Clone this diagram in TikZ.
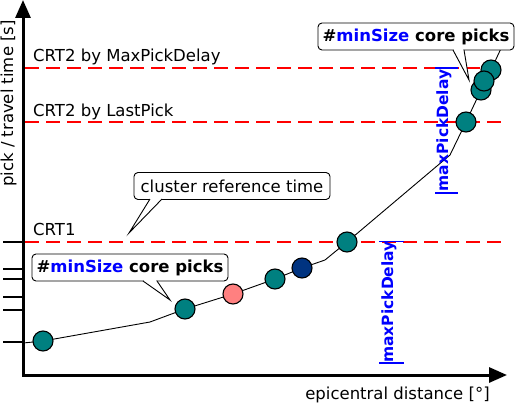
\documentclass[tikz,border=0pt]{standalone}
\usepackage{fontspec}
\setmainfont{DejaVu Sans}
\usetikzlibrary{arrows.meta}
\definecolor{pickteal}{RGB}{0,128,128}
\definecolor{pickpink}{RGB}{255,128,128}
\definecolor{picknavy}{RGB}{0,51,128}
\definecolor{labelblue}{RGB}{0,0,255}
\definecolor{crtred}{RGB}{255,0,0}
\begin{document}
\begin{tikzpicture}[x=1pt,y=-1pt,
  axis/.style={line width=3pt,-{Triangle[length=18pt,width=15pt]}},
  tickline/.style={line width=2pt},
  crtline/.style={crtred,line width=2pt,dash pattern=on 14pt off 7pt},
  curveline/.style={line width=0.9pt},
  pick/.style={circle,draw=black,line width=1.1pt,minimum size=20pt,inner sep=0pt},
  lbl/.style={font=\fontsize{16.5}{19}\selectfont,inner sep=0pt},
  callbox/.style={draw=black,fill=white,rounded corners=4pt,line width=0.9pt,minimum width=196pt,minimum height=27pt,inner sep=0pt,font=\fontsize{16.5}{19}\selectfont},
  callside/.style={line width=0.9pt},
  delay/.style={text=labelblue,font=\fontsize{15.5}{18}\selectfont\bfseries,rotate=90,inner sep=0pt},
  delaybar/.style={labelblue,line width=1.6pt},
]
\useasboundingbox (0,0) rectangle (516,404);

% axes
\coordinate (O) at (23,375);
\coordinate (ytip) at (23,0);
\coordinate (xtip) at (507,375);
\coordinate (ybot) at (23,376.5);
\draw[axis] (ybot) -- (ytip);
\draw[axis] (O) -- (xtip);

% ticks
\foreach \ty in {241.5,269,279,296.5,310,342}{
  \draw[tickline] (3,\ty) -- (23,\ty);
}

% dashed CRT lines
\coordinate (m1) at (25,68);  \coordinate (m2) at (503,68);
\coordinate (l1) at (25,122); \coordinate (l2) at (503,122);
\coordinate (r1) at (25,241.5); \coordinate (r2) at (503,241.5);
\draw[crtline] (m1) -- (m2);
\draw[crtline] (l1) -- (l2);
\draw[crtline] (r1) -- (r2);

\node[lbl,anchor=base west] (tmax) at (33,62) {CRT2 by MaxPickDelay};
\node[lbl,anchor=base west] (tlast) at (33,116) {CRT2 by LastPick};
\node[lbl,anchor=base west] (tcrt1) at (33,235) {CRT1};

% axis labels
\node[lbl,anchor=base,rotate=90] (ylab) at (13,103.5) {pick / travel time [s]};
\node[lbl,anchor=base] (xlab) at (397.5,399) {epicentral distance [°]};

% curve
\coordinate (s0) at (23,343);
\coordinate (c1) at (43,341);
\coordinate (k1) at (150,322);
\coordinate (c2) at (185,309);
\coordinate (c3) at (233,294);
\coordinate (c4) at (275,279);
\coordinate (c5) at (302,268);
\coordinate (k2) at (325,260);
\coordinate (c6) at (347,242);
\coordinate (k3) at (450,155);
\coordinate (c7) at (466,122);
\coordinate (c8) at (481,90);
\coordinate (c9) at (484,81);
\coordinate (c10) at (491,70);
\coordinate (s1) at (504,42);
\draw[curveline] (s0) -- (c1) -- (k1) -- (c2) -- (c3) -- (c4) -- (c5) -- (k2) -- (c6) -- (k3) -- (c7) -- (c8) -- (c9) -- (c10) -- (s1);

% picks
\node[pick,fill=pickteal] (p1) at (c1) {};
\node[pick,fill=pickteal] (p2) at (c2) {};
\node[pick,fill=pickpink] (p3) at (c3) {};
\node[pick,fill=pickteal] (p4) at (c4) {};
\node[pick,fill=picknavy] (p5) at (c5) {};
\node[pick,fill=pickteal] (p6) at (c6) {};
\node[pick,fill=pickteal] (p7) at (c7) {};
\node[pick,fill=pickteal] (p10) at (c10) {};
\node[pick,fill=pickteal] (p8) at (c8) {};
\node[pick,fill=pickteal] (p9) at (c9) {};

% maxPickDelay markers
\coordinate (ua) at (435,68);  \coordinate (ub) at (458,68);
\coordinate (uc) at (435,193); \coordinate (ud) at (458,193);
\draw[delaybar] (ua) -- (ub);
\draw[delaybar] (uc) -- (ud);
\node[delay] (du) at (444,130.5) {maxPickDelay};
\coordinate (la) at (379,241.5); \coordinate (lb) at (404,241.5);
\coordinate (lc) at (379,363);   \coordinate (ld) at (404,363);
\draw[delaybar] (la) -- (lb);
\draw[delaybar] (lc) -- (ld);
\node[delay] (dl) at (389,302) {maxPickDelay};

% callout: cluster reference time
\node[callbox] (cbox) at (232,186) {cluster reference time};
\coordinate (cb1) at (150,199); \coordinate (cb2) at (162,199); \coordinate (ctip) at (129,233);
\draw[white,line width=1.8pt,shorten <=0.6pt,shorten >=0.6pt] (cb1) -- (cb2);
\fill[white] (cb1) -- (ctip) -- (cb2) -- cycle;
\draw[callside] (cb1) -- (ctip) -- (cb2);

% callout: lower minSize
\node[callbox] (lbox) at (130,267.5) {\bfseries\#\textcolor{labelblue}{minSize} core picks};
\coordinate (lb1) at (143,281); \coordinate (lb2) at (157,281); \coordinate (ltip) at (170,300);
\draw[white,line width=1.8pt,shorten <=0.6pt,shorten >=0.6pt] (lb1) -- (lb2);
\fill[white] (lb1) -- (ltip) -- (lb2) -- cycle;
\draw[callside] (lb1) -- (ltip) -- (lb2);

% callout: upper minSize
\node[callbox] (ubox) at (416,36.5) {\bfseries\#\textcolor{labelblue}{minSize} core picks};
\coordinate (ub1) at (453,50); \coordinate (ub2) at (464,50); \coordinate (utip) at (469,80);
\draw[white,line width=1.8pt,shorten <=0.6pt,shorten >=0.6pt] (ub1) -- (ub2);
\fill[white] (ub1) -- (utip) -- (ub2) -- cycle;
\draw[callside] (ub1) -- (utip) -- (ub2);
\end{tikzpicture}
\end{document}
